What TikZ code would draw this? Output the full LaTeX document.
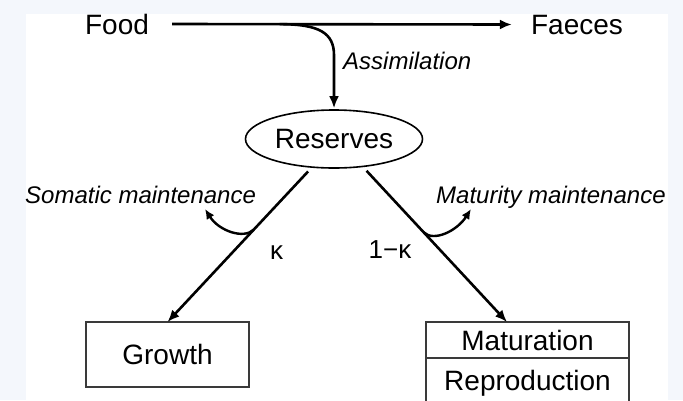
\documentclass[tikz,border=0pt]{standalone}
\usepackage{fontspec}
\setmainfont{Liberation Sans}
\usepackage{xcolor}
\usepackage{tikz}
\usetikzlibrary{arrows.meta,positioning,shapes.geometric,calc}
\definecolor{pagebg}{HTML}{F4F7FC}
\definecolor{edge}{HTML}{3A3A3A}

\begin{document}
\begin{tikzpicture}[
  x=1pt, y=-1pt,
  lbl/.style={inner sep=0pt, font=\fontsize{28}{32}\selectfont},
  note/.style={inner sep=0pt, font=\fontsize{24}{28}\selectfont\itshape},
  frac/.style={inner sep=0pt, font=\fontsize{26}{30}\selectfont},
  box/.style={draw=edge, line width=1.8pt, outer sep=0pt, minimum width=203pt, text depth=0pt, font=\fontsize{28}{32}\selectfont},
  flow/.style={-{Latex[length=12pt,width=10pt]}, line width=2.6pt},
  hook/.style={-{Latex[length=10pt,width=9pt]}, line width=2.4pt}
]
\useasboundingbox (0,0) rectangle (683,400);
\fill[pagebg] (0,0) rectangle (683,400);
\fill[white] (26,14) rectangle (668,400);

\node[lbl, anchor=base] (fd) at (117,34) {Food};
\node[lbl, anchor=base] (fc) at (577,34) {Faeces};
\node[draw, ellipse, line width=1.6pt, minimum width=177pt, minimum height=58pt, inner sep=0pt, font=\fontsize{28}{32}\selectfont] (res) at (334,139) {Reserves};
\node[box, minimum width=163pt, minimum height=65pt] (grw) at (167.5,354.5) {Growth};
\node[box, minimum height=36pt] (mat) at (527.5,340) {Maturation};
\node[box, minimum height=44pt, below=0pt of mat] (rep) {Reproduction};

\node[note, anchor=base west] (asl) at (343,69) {Assimilation};
\node[note, anchor=base west] (sml) at (25,203) {Somatic maintenance};
\node[note, anchor=base west] (mml) at (436,203) {Maturity maintenance};
\node[frac, anchor=base] (kap) at (276.5,259) {κ};
\node[frac, anchor=base] (omk) at (390,258) {1−κ};

\coordinate (asp) at ($(fd.east)!0.342!(fc.west)$);
\coordinate (abend) at ($(res.north)+(0,-54)$);
\coordinate (mtop) at ([xshift=-20.5pt]mat.north);
\coordinate (kl) at ($(res.232)!0.4!(grw.north)$);
\coordinate (kr) at ($(res.316)!0.42!(mtop)$);
\coordinate (smt) at (205,209);
\coordinate (mmt) at (471,209);

\draw[flow] ([xshift=23pt]fd.east) -- ([xshift=-19pt]fc.west);
\draw[flow, shorten >=1pt] (asp) .. controls +(40,0) and +(0,-22) .. (abend) -- (res.north);
\draw[flow, shorten <=5pt] (res.232) -- (grw.north);
\draw[flow, shorten <=5pt] (res.316) -- (mtop);
\draw[hook] (kl) .. controls +(-10,10) and +(14,22) .. (smt);
\draw[hook] (kr) .. controls +(10,10) and +(-14,22) .. (mmt);
\end{tikzpicture}
\end{document}
